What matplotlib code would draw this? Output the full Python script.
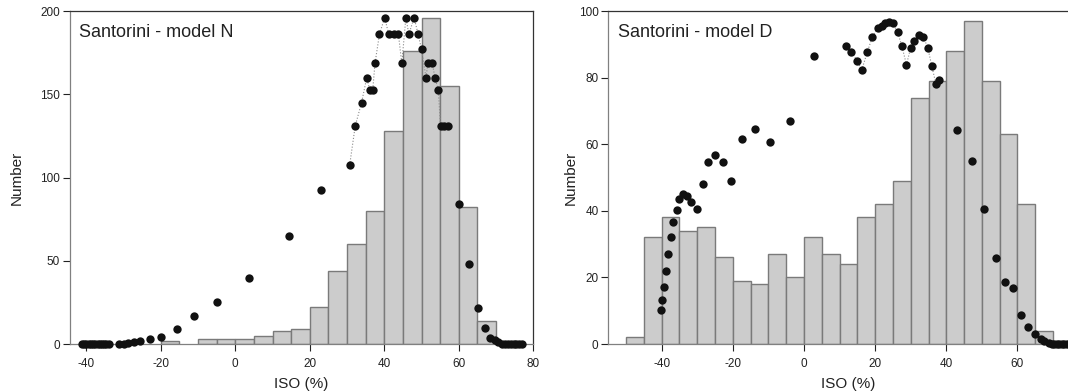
import numpy as np
import matplotlib
matplotlib.use("Agg")
import matplotlib.pyplot as plt

plt.rcParams['font.family'] = ['Liberation Sans', 'DejaVu Sans']
plt.rcParams['axes.unicode_minus'] = False

# histogram bins (left edges, width 5)
n_bin_left = [-20, -15, -10, -5, 0, 5, 10, 15, 20, 25, 30, 35, 40, 45, 50, 55, 60, 65]
n_counts = [2, 0, 3, 3, 3, 5, 8, 9, 22, 44, 60, 80, 128, 176, 196, 155, 82, 14]

d_bin_left = [-50, -45, -40, -35, -30, -25, -20, -15, -10, -5, 0, 5, 10, 15, 20, 25,
              30, 35, 40, 45, 50, 55, 60, 65]
d_counts = [2, 32, 38, 34, 35, 26, 19, 18, 27, 20, 32, 27, 24, 38, 42, 49,
            74, 79, 88, 97, 79, 63, 42, 4]

# model curve points (ISO %, number)
n_x = [-41.2, -40.6, -40.0, -39.4, -38.8, -38.2, -37.6, -37.0, -36.4, -35.8, -35.2, -34.6, -34.0,
       -31.3, -30.0, -28.8, -27.3, -25.5, -22.8, -20.0, -15.7, -11.0, -5.0, 3.8, 14.4, 23.1,
       30.7, 32.2, 33.9, 35.3, 36.1, 36.9, 37.5, 38.7, 40.1, 41.2, 42.5, 43.8, 44.7, 45.8,
       46.6, 48.0, 49.1, 50.0, 51.2, 51.7, 52.9, 53.6, 54.5, 55.1, 56.0, 57.0, 60.1, 62.8,
       65.2, 67.1, 68.4, 69.6, 70.6, 71.5, 72.3, 73.1, 73.9, 74.7, 75.5, 76.3, 77.1]
n_y = [0, 0, 0, 0, 0, 0, 0, 0, 0, 0, 0, 0, 0,
       0.2, 0.2, 0.6, 1.2, 1.8, 3.2, 4.2, 8.8, 16.8, 25, 39.5, 65, 92.4,
       107.4, 131, 145, 160, 152.5, 152.5, 168.5, 186, 196, 186, 186, 186, 168.5, 196,
       186, 196, 186, 177, 160, 168.5, 168.5, 160, 152.5, 131, 131, 131, 84, 48.3,
       21.6, 9.6, 3.8, 2.2, 1.0, 0.3, 0, 0, 0, 0, 0, 0, 0]

d_x = [-40.3, -39.9, -39.3, -38.7, -38.1, -37.4, -36.7, -35.7, -35.0, -34.1, -32.9, -31.8,
       -30.2, -28.5, -27.0, -25.0, -22.8, -20.5, -17.5, -13.9, -9.5, -3.9, 2.9, 11.7, 13.3,
       15.0, 16.2, 17.8, 19.2, 20.7, 21.8, 22.8, 23.8, 24.9, 26.3, 27.5, 28.8, 30.0, 31.0,
       32.2, 33.5, 34.8, 35.9, 37.1, 37.9, 43.1, 47.2, 50.7, 53.9, 56.4, 58.7, 61.1, 63.1,
       64.8, 66.7, 67.6, 68.8, 69.6, 70.3, 71.0, 71.7, 72.4, 73.1, 73.8, 74.5]
d_y = [10.3, 13.3, 17.1, 21.9, 27.0, 32.2, 36.6, 40.2, 43.4, 45.0, 44.4, 42.6,
       40.4, 48.2, 54.6, 56.8, 54.6, 48.9, 61.6, 64.6, 60.6, 67.0, 86.5, 89.5, 87.7,
       85.0, 82.2, 87.7, 92.2, 94.9, 95.5, 96.3, 96.8, 96.5, 93.7, 89.5, 83.9, 89.0, 90.9,
       92.8, 92.3, 89.0, 83.5, 78.1, 79.3, 64.3, 55.0, 40.6, 25.8, 18.5, 16.9, 8.7, 5.1,
       3.0, 1.6, 0.9, 0.3, 0.1, 0, 0, 0, 0, 0, 0, 0]

fig = plt.figure(figsize=(10.68, 3.92), dpi=100)
ax1 = fig.add_axes([0.0655, 0.1224, 0.4338, 0.8495])
ax2 = fig.add_axes([0.5696, 0.1224, 0.4497, 0.8495])


def draw_panel(ax, bins, counts, px, py, line_rng, title, xlim, ylim, xt, yt, ypad):
    bins = np.array(bins, dtype=float)
    counts = np.array(counts, dtype=float)
    keep = counts > 0
    ax.bar(bins[keep], counts[keep], width=5, align='edge', color='#cccccc',
           edgecolor='#7a7a7a', linewidth=1.0, zorder=1)
    px = np.array(px)
    py = np.array(py)
    m = (px >= line_rng[0]) & (px <= line_rng[1])
    ax.plot(px[m], py[m], linestyle=':', color='#8a8a8a', linewidth=0.8, zorder=2)
    ax.plot(px, py, 'o', color='#111111', markersize=6, markeredgewidth=0, zorder=3,
            clip_on=False)
    ax.set_xlim(*xlim)
    ax.set_ylim(*ylim)
    ax.set_xticks(xt)
    ax.set_yticks(yt)
    ax.tick_params(direction='out', length=5, width=0.8, labelsize=8.5,
                   colors='#222222', pad=2)
    ax.tick_params(axis='x', pad=5)
    for s in ['left', 'bottom']:
        ax.spines[s].set_color('#808080')
    for s in ['top', 'right']:
        ax.spines[s].set_color('#333333')
    for s in ax.spines.values():
        s.set_linewidth(0.9)
    ax.set_xlabel('ISO (%)', fontsize=11, color='#222222', labelpad=5)
    ax.set_ylabel('Number', fontsize=11, color='#222222', labelpad=ypad)
    ax.text(0.02, 0.935, title, transform=ax.transAxes, fontsize=13,
            color='#222222', va='center', ha='left')


draw_panel(ax1, n_bin_left, n_counts, n_x, n_y, (30, 58), 'Santorini - model N',
           (-44.4, 80), (0, 200), [-40, -20, 0, 20, 40, 60, 80], [0, 50, 100, 150, 200], 12)
draw_panel(ax2, d_bin_left, d_counts, d_x, d_y, (11, 38.5), 'Santorini - model D',
           (-55, 80), (0, 100), [-40, -20, 0, 20, 40, 60], [0, 20, 40, 60, 80, 100], 1)

fig.savefig('out.png', dpi=100)
